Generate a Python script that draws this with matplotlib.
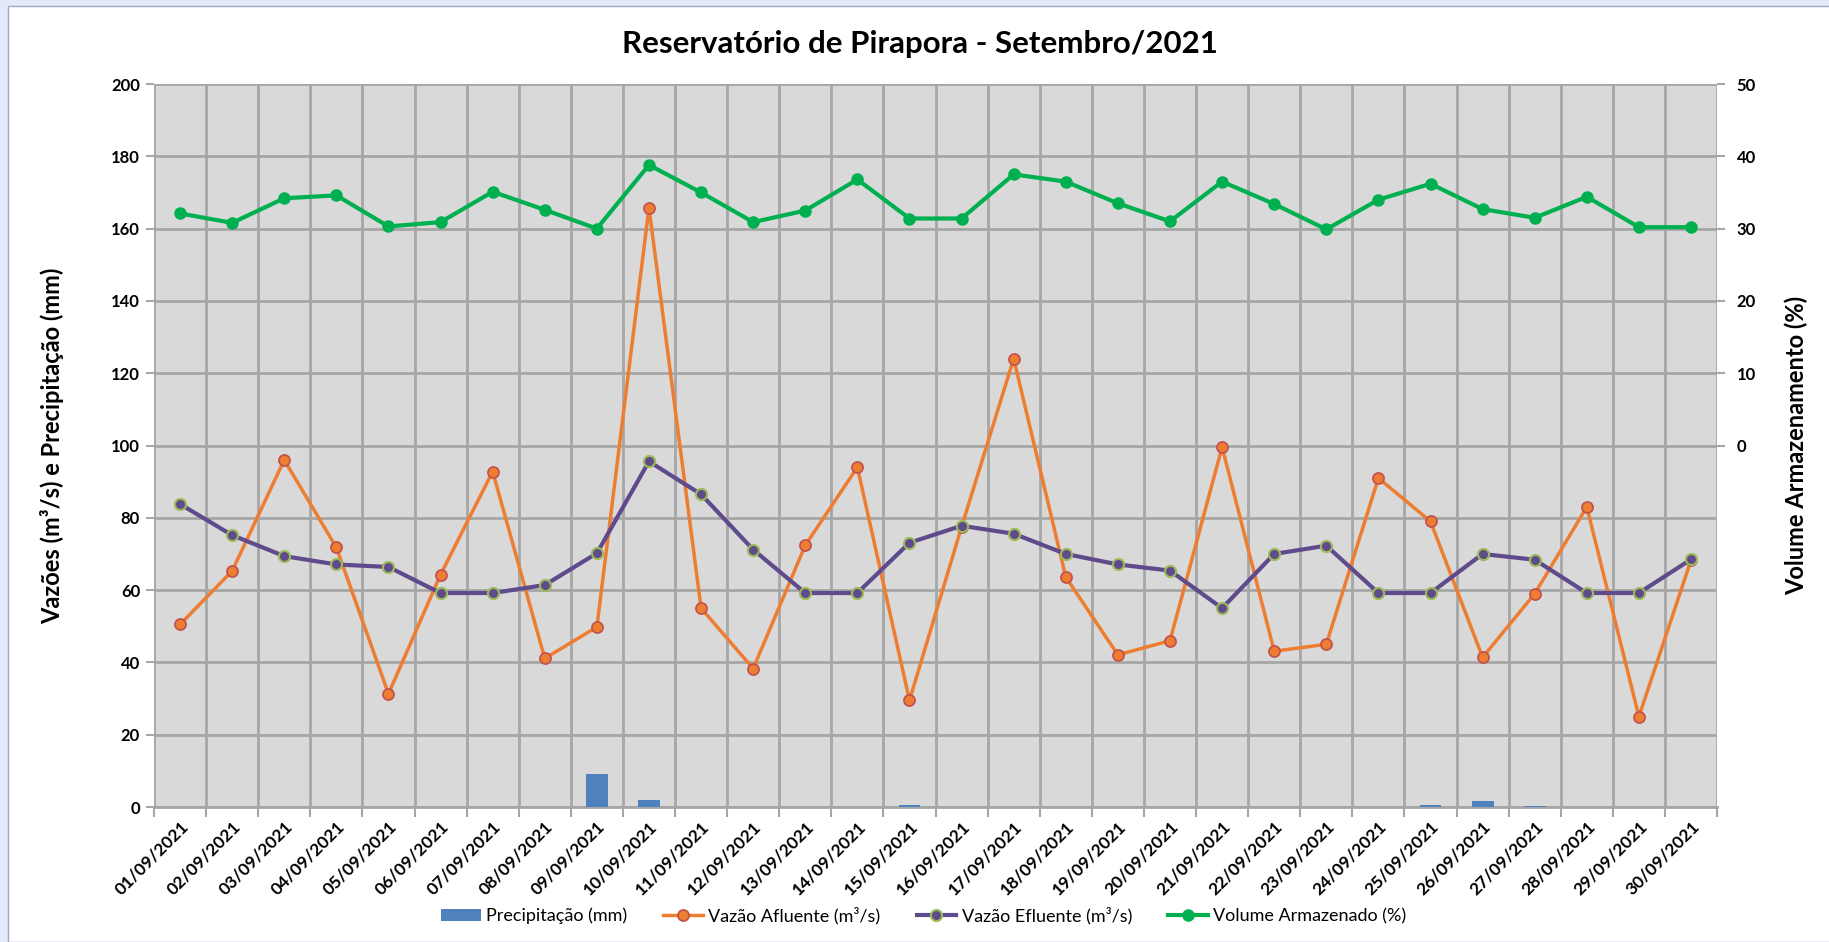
import numpy as np
import matplotlib
matplotlib.use("Agg")
import matplotlib.pyplot as plt
from matplotlib.patches import Rectangle

plt.rcParams['font.family'] = ['Lato', 'DejaVu Sans']

dias = [f"{d:02d}/09/2021" for d in range(1, 31)]

precipitacao = [0, 0, 0, 0, 0, 0, 0, 0, 9.2, 1.9,
                0, 0, 0, 0, 0.5, 0, 0, 0, 0, 0,
                0, 0, 0, 0, 0.6, 1.6, 0.3, 0, 0, 0]
vazao_afluente = [50.5, 65.3, 96.0, 71.8, 31.3, 64.3, 92.8, 41.1, 49.8, 165.8,
                  55.0, 38.3, 72.4, 94.0, 29.5, 77.5, 124.0, 63.6, 42.1, 46.0,
                  99.6, 43.1, 45.0, 91.0, 79.0, 41.4, 59.0, 83.0, 25.0, 68.3]
vazao_efluente = [83.8, 75.2, 69.4, 67.1, 66.4, 59.2, 59.2, 61.4, 70.2, 95.6,
                  86.5, 71.2, 59.2, 59.2, 73.1, 77.8, 75.6, 70.0, 67.1, 65.4,
                  55.0, 70.0, 72.3, 59.2, 59.2, 70.0, 68.4, 59.2, 59.2, 68.5]
volume = [32.1, 30.8, 34.2, 34.6, 30.3, 30.9, 35.1, 32.6, 30.0, 38.8,
          35.0, 30.9, 32.5, 36.8, 31.4, 31.4, 37.5, 36.5, 33.5, 31.0,
          36.5, 33.4, 29.9, 34.0, 36.2, 32.7, 31.5, 34.4, 30.2, 30.2]

x = np.arange(len(dias))

fig = plt.figure(figsize=(18.29, 9.42), dpi=100)
fig.patch.set_facecolor("#E3E9F8")
fig.patches.append(Rectangle((8 / 1829, 0), 1, 1 - 6 / 942, transform=fig.transFigure,
                             facecolor="white", edgecolor="#A0A8C0", linewidth=1, zorder=-5))

ax = fig.add_axes([0.0842, 0.1433, 0.8546, 0.7675])
ax.set_facecolor("#D9D9D9")
ax2 = ax.twinx()

bars = ax.bar(x, precipitacao, width=0.42, color="#4F81BD", zorder=3,
              label="Precipitação (mm)")
l1, = ax.plot(x, vazao_afluente, color="#ED7D31", lw=2.5, marker="o", ms=8,
              mfc="#ED7D31", mec="#C0504D", mew=1.2, zorder=4,
              label="Vazão Afluente (m³/s)")
l2, = ax.plot(x, vazao_efluente, color="#5F4B8B", lw=3, marker="o", ms=8,
              mfc="#5F4B8B", mec="#9BBB59", mew=1.5, zorder=5,
              label="Vazão Efluente (m³/s)")
l3, = ax2.plot(x, volume, color="#00B050", lw=3, marker="o", ms=8,
               mfc="#00B050", mec="#00B050", zorder=4,
               label="Volume Armazenado (%)")

ax.set_xlim(-0.5, len(dias) - 0.5)
ax.set_ylim(0, 200)
ax.set_yticks(np.arange(0, 201, 20))
ax2.set_ylim(-50, 50)
ax2.set_yticks(np.arange(0, 51, 10))

ax.set_xticks(x)
ax.set_xticklabels(dias, rotation=45, ha="right", rotation_mode="anchor",
                   fontsize=12.5, fontweight="bold")
ax.set_xticks(np.arange(-0.5, len(dias), 1), minor=True)
ax.tick_params(axis="x", which="major", length=0, pad=8)
ax.tick_params(axis="x", which="minor", length=7, color="#A6A6A6", width=1.5)
ax.tick_params(axis="y", length=6, color="#A6A6A6", width=1.5, labelsize=12, pad=4)
ax2.tick_params(axis="y", length=6, color="#A6A6A6", width=1.5, labelsize=12, pad=8)
for lab in ax.get_yticklabels() + ax2.get_yticklabels():
    lab.set_fontweight("bold")

ax.grid(True, axis="y", which="major", color="#A6A6A6", lw=2)
ax.grid(True, axis="x", which="minor", color="#A6A6A6", lw=2)
ax.grid(False, axis="x", which="major")
ax.set_axisbelow(True)
for a in (ax, ax2):
    for s in a.spines.values():
        s.set_visible(False)
ax.spines["bottom"].set_visible(True)
ax.spines["bottom"].set_color("#A6A6A6")
ax.spines["bottom"].set_linewidth(2)

ax.set_ylabel("Vazões (m³/s) e Precipitação (mm)", fontsize=17, fontweight="bold",
              va="center")
ax.yaxis.set_label_coords(-0.065, 0.5)
ax2.set_ylabel("Volume Armazenamento (%)", fontsize=17, fontweight="bold",
               va="center", rotation=90)
ax2.yaxis.set_label_coords(1.051, 0.5)

fig.text(0.503, 0.953, "Reservatório de Pirapora - Setembro/2021", ha="center", va="center",
         fontsize=22.5, fontweight="bold")

fig.legend(handles=[bars, l1, l2, l3], loc="center", bbox_to_anchor=(0.505, 0.028),
           ncol=4, frameon=False, fontsize=13, handlelength=2.2, columnspacing=2.0,
           handletextpad=0.3)

fig.savefig("out.png", dpi=100)
